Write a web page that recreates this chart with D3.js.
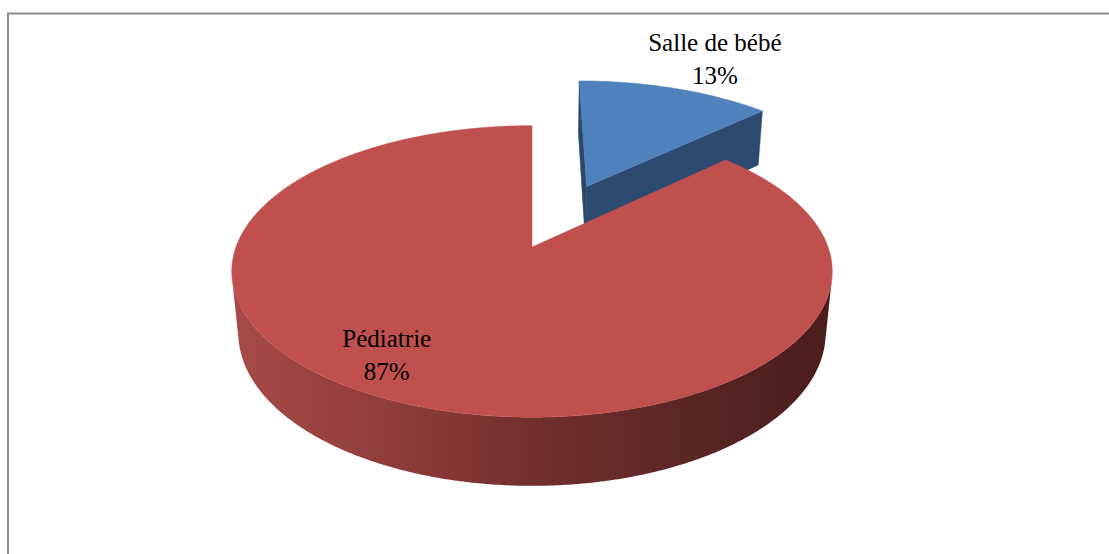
<!DOCTYPE html>
<html lang="fr">
<head>
  <meta charset="UTF-8">
  <title>Salle de bébé / Pédiatrie</title>
  <script src="https://d3js.org/d3.v7.min.js"></script>
  <style>
    body {
      margin: 0;
      background: #ffffff;
    }
    svg {
      display: block;
    }
  </style>
</head>
<body>
<svg width="1109" height="554"></svg>

<script>
  // data
  const categories = ["Salle de bébé", "Pédiatrie"];
  const values = [13, 87];
  const exploded = [true, false];

  const topColors = ["#4F81BD", "#C0504D"];
  const wallColors = ["#2D4B70", "#7A3230"];

  const width = 1109;
  const height = 554;
  const svg = d3.select("svg").attr("width", width).attr("height", height);

  // frame (only top and left edges are inside the picture)
  svg.append("rect")
    .attr("x", 8)
    .attr("y", 13.5)
    .attr("width", 1300)
    .attr("height", 1000)
    .attr("fill", "none")
    .attr("stroke", "#8a8a8a")
    .attr("stroke-width", 2);

  // 3d projection: disk of radius 1 lying flat, camera tilted and in perspective
  const cx = 532, cy = 247;
  const k = 296;          // px per radius at camera distance
  const D = 5.24;         // camera distance (radius units)
  const alpha = 28.6 * Math.PI / 180;
  const H = 0.24;         // thickness
  const explode = 0.5;
  const ca = Math.cos(alpha), sa = Math.sin(alpha);

  function proj(X, Y, Z) {
    const depth = D + Z * ca - Y * sa;
    const up = Y * ca + Z * sa;
    return [cx + k * X * D / depth, cy - k * up * D / depth];
  }

  function pt(a, r, y, off) {
    return proj(off.x + r * Math.sin(a), y, off.z + r * Math.cos(a));
  }

  function arcPts(a0, a1, y, off) {
    const n = Math.max(2, Math.ceil(Math.abs(a1 - a0) / (Math.PI / 360)));
    return d3.range(n + 1).map(i => pt(a0 + (a1 - a0) * i / n, 1, y, off));
  }

  const line = d3.line().curve(d3.curveLinearClosed);

  const pie = d3.pie().sort(null).value(d => d);
  const arcs = pie(values).map((d, i) => {
    const mid = (d.startAngle + d.endAngle) / 2;
    const e = exploded[i] ? explode : 0;
    return {
      ...d, i, mid,
      off: { x: e * Math.sin(mid), z: e * Math.cos(mid) }
    };
  });

  // camera position for face culling
  const cam = { x: 0, y: D * sa, z: -D * ca };
  function wallVisible(a, off, sign) {
    // sign -1: start wall, +1: end wall
    const nx = sign * Math.cos(a), nz = -sign * Math.sin(a);
    const px = off.x + 0.5 * Math.sin(a), pz = off.z + 0.5 * Math.cos(a);
    return (cam.x - px) * nx + (cam.z - pz) * nz > 1e-6;
  }

  // side gradients
  const defs = svg.append("defs");
  const grad = defs.append("linearGradient")
    .attr("id", "sideRed")
    .attr("gradientUnits", "userSpaceOnUse")
    .attr("x1", cx - k * 1.02).attr("x2", cx + k * 1.02)
    .attr("y1", 0).attr("y2", 0);
  [["0", "#A84A47"], ["0.3", "#8C3B39"], ["0.5", "#722F2E"], ["0.75", "#5B2625"], ["1", "#4A1D1D"]]
    .forEach(s => grad.append("stop").attr("offset", s[0]).attr("stop-color", s[1]));

  const grad2 = defs.append("linearGradient")
    .attr("id", "sideBlue")
    .attr("gradientUnits", "userSpaceOnUse")
    .attr("x1", cx - k * 1.02).attr("x2", cx + k * 1.02)
    .attr("y1", 0).attr("y2", 0);
  [["0", "#3A5F8C"], ["1", "#213A58"]]
    .forEach(s => grad2.append("stop").attr("offset", s[0]).attr("stop-color", s[1]));

  const sideFill = ["url(#sideBlue)", "url(#sideRed)"];

  // visible range of the outer wall
  const tVis = Math.acos(-1 / (D * ca));
  const visRange = [tVis, 2 * Math.PI - tVis];

  // draw far slices first
  const order = arcs.slice().sort((a, b) => Math.cos(b.mid) - Math.cos(a.mid));

  const g = svg.append("g");

  order.forEach(s => {
    const sg = g.append("g").attr("class", "slice");
    const o = s.off;

    // radial walls
    [[s.startAngle, -1], [s.endAngle, 1]].forEach(([a, sign]) => {
      if (!wallVisible(a, o, sign)) return;
      const c = sign < 0 ? d3.color(wallColors[s.i]).darker(0.15) : wallColors[s.i];
      const pts = [pt(a, 0, 0, o), pt(a, 1, 0, o), pt(a, 1, -H, o), pt(a, 0, -H, o)];
      sg.append("path")
        .attr("d", line(pts))
        .attr("fill", c)
        .attr("stroke", c)
        .attr("stroke-width", 0.5);
    });

    // outer wall (front part only)
    const a0 = Math.max(s.startAngle, visRange[0]);
    const a1 = Math.min(s.endAngle, visRange[1]);
    if (a1 > a0) {
      const pts = arcPts(a0, a1, 0, o).concat(arcPts(a1, a0, -H, o));
      sg.append("path")
        .attr("d", line(pts))
        .attr("fill", sideFill[s.i]);
    }

    // top face
    const topPts = [pt(0, 0, 0, o)].concat(arcPts(s.startAngle, s.endAngle, 0, o));
    sg.append("path")
      .attr("d", line(topPts))
      .attr("fill", topColors[s.i])
      .attr("stroke", topColors[s.i])
      .attr("stroke-width", 0.5);
  });

  // data labels: category name + percentage
  const total = d3.sum(values);
  const fmt = d3.format(".0%");
  const labelLayout = [
    { r: 1.4, dx: 10, dy: 3 },     // outside, above the exploded slice
    { r: 0.8, dx: -38, dy: -11 }   // inside the big slice
  ];

  const labels = svg.append("g")
    .attr("font-family", "'Liberation Serif', 'DejaVu Serif', 'Times New Roman', serif")
    .attr("font-size", 25)
    .attr("fill", "#000");
  arcs.forEach(s => {
    const L = labelLayout[s.i];
    const p = pt(s.mid, L.r, 0, s.off);
    const x = p[0] + L.dx, y = p[1] + L.dy;
    const t = labels.append("text").attr("text-anchor", "middle");
    t.append("tspan").attr("x", x).attr("y", y - 8).text(categories[s.i]);
    t.append("tspan").attr("x", x).attr("y", y + 25).text(fmt(values[s.i] / total));
  });
</script>
</body>
</html>
